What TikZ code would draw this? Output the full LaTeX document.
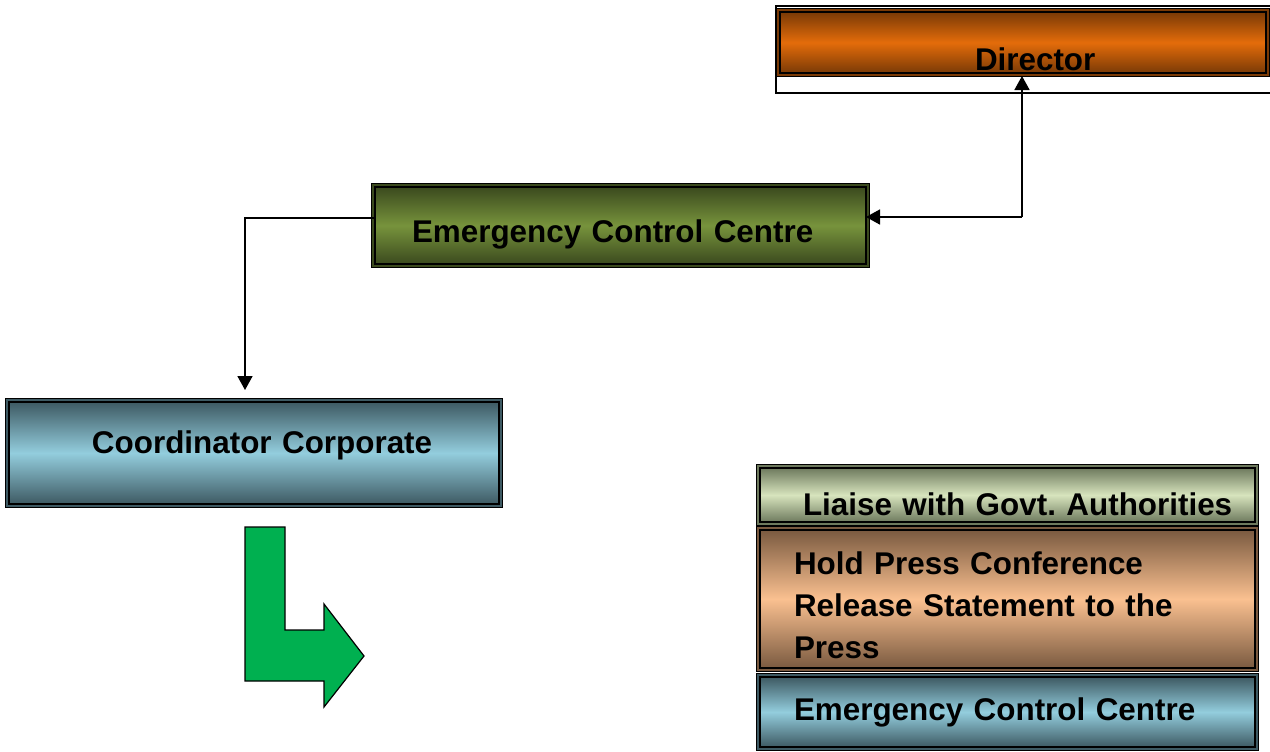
\documentclass[tikz,border=0pt]{standalone}
\usepackage{fontspec}
\setmainfont{Liberation Sans}
\usepackage{xcolor}
\usetikzlibrary{arrows.meta}
\frenchspacing

\definecolor{dirdark}{HTML}{7A3A06}
\definecolor{dirlight}{HTML}{E46C0A}
\definecolor{eccdark}{HTML}{3B4A1E}
\definecolor{ecclight}{HTML}{77933C}
\definecolor{crddark}{HTML}{3E5A63}
\definecolor{crdlight}{HTML}{93CDDD}
\definecolor{liadark}{HTML}{6E7A5E}
\definecolor{lialight}{HTML}{D7E4BD}
\definecolor{prsdark}{HTML}{7A5A40}
\definecolor{prslight}{HTML}{FAC090}
\definecolor{bendgreen}{HTML}{00B050}

\begin{document}
\begin{tikzpicture}[x=0.5pt, y=-0.5pt,
    box/.style={rectangle, draw=black, line width=1.2pt, anchor=north west,
        inner sep=0pt, outer sep=0pt, align=left,
        font=\fontsize{15.7}{21}\selectfont\bfseries,
        preaction={draw=black, line width=3.6pt}},
    tone/.style 2 args={preaction={draw=#1, line width=2.6pt},
        top color=#1, bottom color=#1, middle color=#2},
    lead/.style={execute at begin node={\leftskip=#1\relax}},
    link/.style={-{Triangle[length=7pt,width=7.5pt]}, line width=0.85pt}]

    \useasboundingbox (0,0) rectangle (1270,751);

    \node[box, tone={dirdark}{dirlight}, lead=97.5pt, text width=243pt,
        text height=29pt, text depth=1.5pt] (dir) at (780,12) {Director};
    \draw[line width=0.9pt] ([shift={(-4,-6)}]dir.north west) rectangle ([shift={(6,20)}]dir.south east);

    \node[box, tone={eccdark}{ecclight}, lead=18.5pt, text width=245.5pt,
        text height=27.5pt, text depth=11pt] (ecc) at (375,187) {Emergency Control Centre};
    \node[box, tone={crddark}{crdlight}, lead=41.5pt, text width=245pt,
        text height=25.5pt, text depth=25.5pt] (coord) at (9,402) {Coordinator Corporate};

    \node[box, tone={liadark}{lialight}, lead=21.5pt, text width=247.5pt,
        text height=23.5pt, text depth=3.5pt] (liaise) at (760,468) {Liaise with Govt. Authorities};
    \node[box, tone={prsdark}{prslight}, lead=17pt, text width=247.5pt,
        text height=22pt, text depth=47pt] (press) at (760,530)
        {Hold Press Conference\\Release Statement to the\\Press};
    \node[box, tone={crddark}{crdlight}, lead=17pt, text width=247.5pt,
        text height=21.5pt, text depth=13.5pt] (ecc2) at (760,677) {Emergency Control Centre};

    \coordinate (turn) at (1022,217);
    \draw[link] (turn) -- (turn -| ecc.east);
    \draw[link, shorten >=1.5pt] (turn) -- (turn |- dir.south);
    \draw[link, shorten >=6pt] ([yshift=3.75pt]ecc.west) -| ([xshift=-4.5pt]coord.north);

    \draw[fill=bendgreen, line width=0.6pt] (245,527) -- (285,527) -- (285,630) -- (324,630)
        -- (324,604) -- (364,656) -- (324,707) -- (324,681) -- (245,681) -- cycle;

\end{tikzpicture}
\end{document}
